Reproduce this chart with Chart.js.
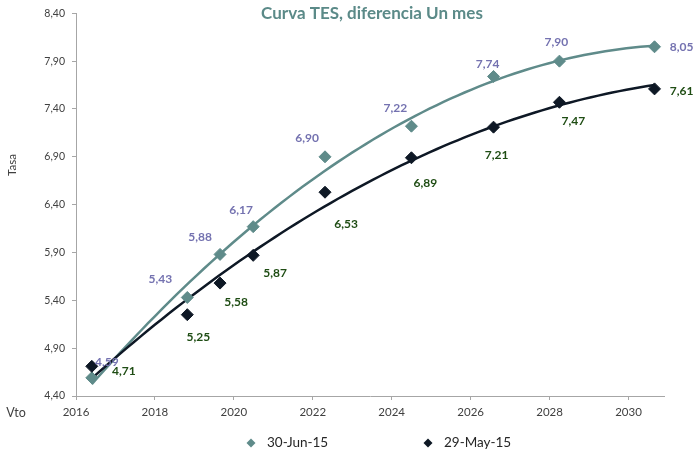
<!DOCTYPE html>
<html lang="es">
<head>
    <meta charset="UTF-8">
    <title>Curva TES</title>
    <script src="https://cdn.jsdelivr.net/npm/chart.js"></script>
    <style>
        body { margin: 0; background: #fff; }
        #wrap { width: 694px; height: 457px; }
    </style>
</head>
<body>
    <div id="wrap"><canvas id="tesChart" width="694" height="457"></canvas></div>
    <script>
        // Datos
        const vencimientos = [2016.40, 2018.82, 2019.65, 2020.49, 2022.31, 2024.50, 2026.58, 2028.25, 2030.66];
        const tasasJun = [4.59, 5.43, 5.88, 6.17, 6.90, 7.22, 7.74, 7.90, 8.05];
        const tasasMay = [4.71, 5.25, 5.58, 5.87, 6.53, 6.89, 7.21, 7.47, 7.61];
        const seriesNames = ['30-Jun-15', '29-May-15'];
        const xTicks = [2016, 2018, 2020, 2022, 2024, 2026, 2028, 2030];
        const yTicks = [4.40, 4.90, 5.40, 5.90, 6.40, 6.90, 7.40, 7.90, 8.40];

        // desplazamiento de las etiquetas (px) respecto al punto
        const offsJun = [[15, -16], [-27, -18], [-20, -17], [-12, -17], [-18, -19], [-16, -18], [-6, -12], [-3, -19], [27, 0]];
        const offsMay = [[32, 5], [11, 22], [16, 19], [22, 18], [21, 32], [14, 25], [3, 28], [14, 19], [27, 2]];

        const colJun = '#5f8b8a';
        const colMay = '#0e1825';
        const labJun = '#7472b0';
        const labMay = '#1f4d14';
        const FONT = 'Lato, "Open Sans", sans-serif';

        // linea de tendencia polinomica (grado 2), como la de Excel
        function polyFit(xs, ys) {
            const x0 = xs[0];
            let s = [0, 0, 0, 0, 0], t = [0, 0, 0];
            xs.forEach((x, i) => {
                const u = x - x0;
                for (let k = 0; k < 5; k++) s[k] += Math.pow(u, k);
                for (let k = 0; k < 3; k++) t[k] += ys[i] * Math.pow(u, k);
            });
            const A = [[s[0], s[1], s[2], t[0]], [s[1], s[2], s[3], t[1]], [s[2], s[3], s[4], t[2]]];
            for (let i = 0; i < 3; i++) {
                for (let j = i + 1; j < 3; j++) {
                    const f = A[j][i] / A[i][i];
                    for (let k = i; k < 4; k++) A[j][k] -= f * A[i][k];
                }
            }
            const c = [0, 0, 0];
            for (let i = 2; i >= 0; i--) {
                let v = A[i][3];
                for (let k = i + 1; k < 3; k++) v -= A[i][k] * c[k];
                c[i] = v / A[i][i];
            }
            return x => { const u = x - x0; return c[0] + c[1] * u + c[2] * u * u; };
        }

        function trend(xs, ys) {
            const f = polyFit(xs, ys);
            const out = [];
            const n = 80, a = xs[0], b = xs[xs.length - 1];
            for (let i = 0; i <= n; i++) {
                const x = a + (b - a) * i / n;
                out.push({ x: x, y: f(x) });
            }
            return out;
        }

        const toPts = ys => vencimientos.map((x, i) => ({ x: x, y: ys[i] }));
        const fmt = v => v.toFixed(2).replace('.', ',');

        const decor = {
            id: 'decor',
            afterDatasetsDraw(chart) {
                const ctx = chart.ctx;
                ctx.save();
                ctx.textAlign = 'center';
                ctx.textBaseline = 'middle';
                ctx.font = 'bold 12px ' + FONT;
                // etiquetas de datos
                [[2, tasasJun, offsJun, labJun], [3, tasasMay, offsMay, labMay]].forEach(([idx, vals, offs, col]) => {
                    const meta = chart.getDatasetMeta(idx);
                    ctx.fillStyle = col;
                    meta.data.forEach((p, i) => {
                        ctx.fillText(fmt(vals[i]), p.x + offs[i][0], p.y + offs[i][1]);
                    });
                });
                // titulo
                ctx.font = 'bold 17px ' + FONT;
                ctx.fillStyle = '#5b8a88';
                ctx.fillText('Curva TES, diferencia Un mes', 372, 14);
                // titulos de ejes
                ctx.font = '12.5px ' + FONT;
                ctx.fillStyle = '#404040';
                ctx.fillText('Vto', 16, 413);
                ctx.save();
                ctx.translate(12, 165);
                ctx.rotate(-Math.PI / 2);
                ctx.font = '11.5px ' + FONT;
                ctx.fillText('Tasa', 0, 0);
                ctx.restore();
                // leyenda
                const items = [[251, colJun, seriesNames[0]], [428, colMay, seriesNames[1]]];
                ctx.font = '13.5px ' + FONT;
                ctx.textAlign = 'left';
                items.forEach(([x, col, name]) => {
                    const y = 443, r = 4.5;
                    ctx.fillStyle = col;
                    ctx.beginPath();
                    ctx.moveTo(x, y - r);
                    ctx.lineTo(x + r, y);
                    ctx.lineTo(x, y + r);
                    ctx.lineTo(x - r, y);
                    ctx.closePath();
                    ctx.fill();
                    ctx.fillStyle = '#262626';
                    ctx.fillText(name, x + 16, y);
                });
                ctx.restore();
            }
        };

        const axisGray = '#a6a6a6';

        new Chart(document.getElementById('tesChart'), {
            type: 'scatter',
            data: {
                datasets: [
                    {
                        label: 'tendencia ' + seriesNames[0],
                        data: trend(vencimientos, tasasJun),
                        showLine: true, pointRadius: 0, borderColor: colJun, borderWidth: 2.5,
                        order: 3
                    },
                    {
                        label: 'tendencia ' + seriesNames[1],
                        data: trend(vencimientos, tasasMay),
                        showLine: true, pointRadius: 0, borderColor: colMay, borderWidth: 2.5,
                        order: 2
                    },
                    {
                        label: seriesNames[0],
                        data: toPts(tasasJun),
                        pointStyle: 'rectRot', pointRadius: 6,
                        backgroundColor: colJun, borderColor: colJun, borderWidth: 1,
                        order: 1
                    },
                    {
                        label: seriesNames[1],
                        data: toPts(tasasMay),
                        pointStyle: 'rectRot', pointRadius: 6,
                        backgroundColor: colMay, borderColor: colMay, borderWidth: 1,
                        order: 0
                    }
                ]
            },
            options: {
                responsive: false,
                animation: false,
                layout: { padding: { top: 10, right: 30, bottom: 31, left: 0 } },
                plugins: {
                    legend: { display: false },
                    tooltip: { enabled: false },
                    title: { display: false }
                },
                scales: {
                    x: {
                        type: 'linear',
                        min: 2016,
                        max: 2030.9,
                        afterBuildTicks: s => { s.ticks = xTicks.map(v => ({ value: v })); },
                        afterFit: s => { s.height = 30; },
                        ticks: {
                            color: '#404040',
                            font: { family: FONT, size: 11.5 },
                            padding: 5,
                            maxRotation: 0,
                            callback: v => String(v)
                        },
                        grid: { drawOnChartArea: false, tickLength: 4, color: axisGray },
                        border: { color: axisGray }
                    },
                    y: {
                        min: 4.4,
                        max: 8.4,
                        afterBuildTicks: s => { s.ticks = yTicks.map(v => ({ value: v })); },
                        afterFit: s => { s.width = 76; },
                        ticks: {
                            color: '#404040',
                            font: { family: FONT, size: 10.5 },
                            padding: 7,
                            callback: v => fmt(v)
                        },
                        grid: { drawOnChartArea: false, tickLength: 4, color: axisGray },
                        border: { color: axisGray }
                    }
                }
            },
            plugins: [decor]
        });
    </script>
</body>
</html>
